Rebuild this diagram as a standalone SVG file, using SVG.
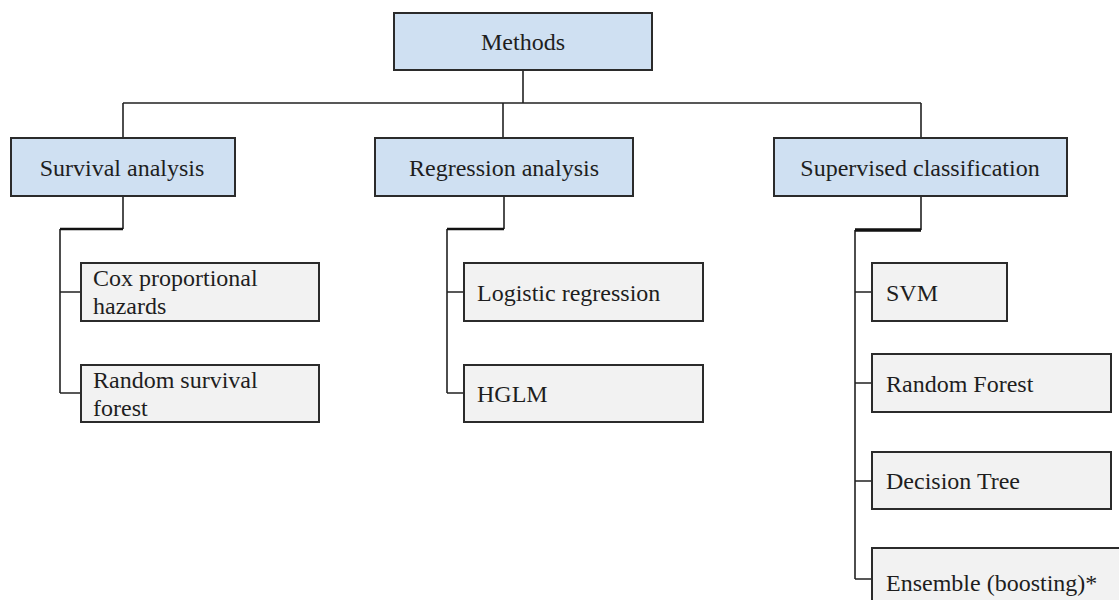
<svg xmlns="http://www.w3.org/2000/svg" width="1119" height="600" viewBox="0 0 1119 600">
<style>
.top{fill:#cfe0f2;stroke:#2b2b2b;stroke-width:2}
.leaf{fill:#f2f2f2;stroke:#2b2b2b;stroke-width:2}
text{font-family:"Liberation Serif","Times New Roman",serif;font-size:24px;fill:#1e1e1e}
.c{text-anchor:middle}
.ln{fill:none;stroke:#222;stroke-width:1.6}
.thick{fill:none;stroke:#111;stroke-width:2.6}
.thicker{fill:none;stroke:#111;stroke-width:3.6}
</style>
<rect width="1119" height="600" fill="#ffffff"/>
<g id="connectors">
<path class="ln" d="M523 70V103M123 103H921M123 103V138M503 103V138M921 103V138"/>
<path class="ln" d="M123 196V229M60 229V393M60 292H81M60 393H81"/>
<path class="thick" d="M123 229H60"/>
<path class="ln" d="M504 196V229M447 229V393M447 292H464M447 393H464"/>
<path class="thick" d="M504 229H447"/>
<path class="ln" d="M921 196V230M855 230V579M855 292H872M855 383H872M855 481H872M855 579H872"/>
<path class="thicker" d="M921 230H855"/>
</g>
<g id="methods"><rect class="top" x="394" y="13" width="258" height="57"/><text class="c" x="523" y="50">Methods</text></g>
<g id="survival"><rect class="top" x="11" y="138" width="224" height="58"/><text class="c" x="122" y="176">Survival analysis</text></g>
<g id="regression"><rect class="top" x="375" y="138" width="258" height="58"/><text class="c" x="504" y="176">Regression analysis</text></g>
<g id="supervised"><rect class="top" x="774" y="138" width="293" height="58"/><text class="c" x="920" y="176">Supervised classification</text></g>
<g id="cox"><rect class="leaf" x="81" y="263" width="238" height="58"/><text x="93" y="286">Cox proportional</text><text x="93" y="314">hazards</text></g>
<g id="rsf"><rect class="leaf" x="81" y="365" width="238" height="57"/><text x="93" y="388">Random survival</text><text x="93" y="416">forest</text></g>
<g id="logistic"><rect class="leaf" x="464" y="263" width="239" height="58"/><text x="477" y="301">Logistic regression</text></g>
<g id="hglm"><rect class="leaf" x="464" y="365" width="239" height="57"/><text x="477" y="402">HGLM</text></g>
<g id="svm"><rect class="leaf" x="872" y="263" width="135" height="58"/><text x="886" y="301">SVM</text></g>
<g id="rf"><rect class="leaf" x="872" y="354" width="239" height="58"/><text x="886" y="392">Random Forest</text></g>
<g id="dt"><rect class="leaf" x="872" y="452" width="239" height="57"/><text x="886" y="489">Decision Tree</text></g>
<g id="ensemble"><rect class="leaf" x="872" y="548" width="260" height="70"/><text x="886" y="591">Ensemble (boosting)*</text></g>
</svg>
